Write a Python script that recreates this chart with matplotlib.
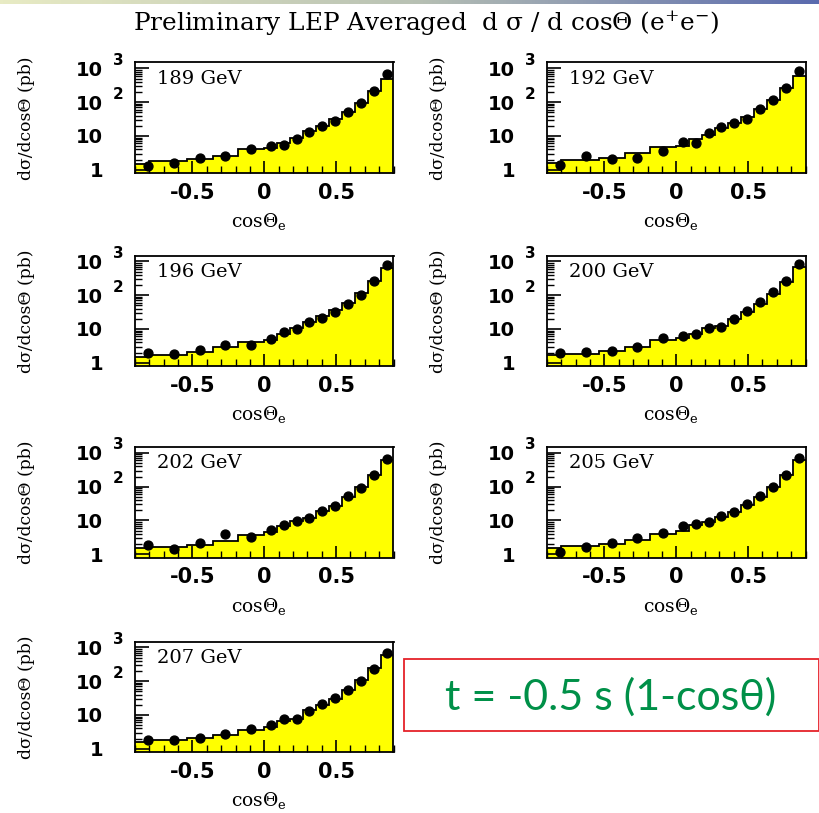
import matplotlib
matplotlib.use("Agg")
import matplotlib.pyplot as plt
import matplotlib.transforms as mtransforms
from matplotlib.ticker import FixedLocator, MultipleLocator, NullFormatter
from matplotlib.patches import Rectangle
from matplotlib.colors import LinearSegmentedColormap
import numpy as np

plt.rcParams['mathtext.fontset'] = 'dejavuserif'

# ---------------- data ----------------
energies = ["189 GeV", "192 GeV", "196 GeV", "200 GeV", "202 GeV", "205 GeV", "207 GeV"]

data_edges = [-0.9, -0.72, -0.54, -0.36, -0.18, 0.0, 0.09, 0.18, 0.27, 0.36,
              0.45, 0.54, 0.63, 0.72, 0.81, 0.9]
hist_edges = [-0.9, -0.8, -0.54, -0.36, -0.18, 0.0, 0.09, 0.18, 0.27, 0.36,
              0.45, 0.54, 0.63, 0.72, 0.81, 0.9]

data_189 = [1.29, 1.61, 2.28, 2.56, 4.2, 5.1, 5.4, 8.0, 13.3, 20, 28, 50, 92, 220, 690]
data_192 = [1.41, 2.5, 2.08, 2.23, 3.7, 6.7, 6.2, 12.4, 18.7, 24.5, 30.8, 64, 113, 258, 850]
data_196 = [1.9, 1.8, 2.4, 3.4, 3.4, 5.1, 8.4, 9.9, 16.6, 21, 32, 56, 103, 257, 810]
data_200 = [2.0, 2.1, 2.3, 3.0, 5.3, 6.2, 7.0, 11, 11.5, 19.6, 34.6, 61, 122, 270, 850]
data_202 = [1.87, 1.42, 2.1, 4.0, 3.3, 5.3, 7.3, 9.4, 11.9, 19.6, 27.6, 52, 93, 215, 676]
data_205 = [1.17, 1.65, 2.2, 3.06, 4.3, 7.0, 7.8, 9.1, 13.5, 18.1, 30.7, 54, 101, 226, 705]
data_207 = [1.85, 1.85, 2.1, 2.8, 3.8, 5.2, 7.8, 7.8, 13.2, 21.8, 32, 55, 103, 230, 670]

pred_189 = [1.45, 1.8, 2.1, 2.56, 4.0, 4.5, 6.4, 8.6, 14, 20, 31, 50, 98, 220, 490]
pred_192 = [1.6, 2.0, 2.3, 3.1, 4.6, 5.1, 8.0, 10.5, 17, 25, 36, 62, 120, 270, 580]
pred_196 = [1.45, 1.7, 2.1, 2.9, 4.2, 4.7, 7.1, 10.6, 16.6, 24.5, 37, 59, 117, 257, 640]
pred_200 = [1.66, 1.78, 2.2, 3.0, 4.6, 5.3, 7.0, 11, 12.3, 19.6, 32, 55, 108, 240, 680]
pred_202 = [1.5, 1.66, 1.87, 2.4, 3.8, 4.6, 7.0, 9.4, 11.9, 18.7, 27.6, 49, 97, 215, 600]
pred_205 = [1.48, 1.73, 2.0, 2.6, 3.9, 4.8, 7.3, 9.1, 12.9, 18, 28.7, 51, 101, 226, 630]
pred_207 = [1.58, 1.78, 2.08, 2.6, 3.5, 4.4, 6.5, 7.5, 13.9, 19.5, 30.7, 55, 108, 250, 600]

all_data = [data_189, data_192, data_196, data_200, data_202, data_205, data_207]
all_pred = [pred_189, pred_192, pred_196, pred_200, pred_202, pred_205, pred_207]

xtick_vals = [-0.5, 0, 0.5]
xtick_labels = ["-0.5", "0", "0.5"]
ytick_vals = [1, 10, 100, 1000]
ytick_labels = ["1", "10", "10", "10"]
ytick_exps = ["", "", "2", "3"]

title = "Preliminary LEP Averaged  d σ / d cosΘ (e$^{+}$e$^{-}$)"
ylabel = "dσ/dcosΘ (pb)"
xlabel = "cosΘ$_{\\mathrm{e}}$"
note = "t = -0.5 s (1-cosθ)"

# ---------------- layout ----------------
W, H = 820, 813
fig = plt.figure(figsize=(W / 100, H / 100), dpi=100)

col_left = [135, 547]
col_w = 258.5
row_top = [62.5, 255.5, 447, 641.5]
row_h = 110.5

centers = 0.5 * (np.array(data_edges[:-1]) + np.array(data_edges[1:]))

for i, (lab, dat, pred) in enumerate(zip(energies, all_data, all_pred)):
    r, c = divmod(i, 2)
    l = col_left[c] / W
    b = (H - row_top[r] - row_h) / H
    ax = fig.add_axes([l, b, col_w / W, row_h / H])
    ax.set_yscale('log')
    ax.stairs(pred, hist_edges, fill=True, facecolor='#FFFF00', edgecolor='none',
              baseline=0.5, zorder=1)
    ax.stairs(pred, hist_edges, baseline=None, color='black', lw=1.3, zorder=2)
    ax.plot(centers, dat, 'o', color='black', ms=6.4, zorder=3)
    ax.set_xlim(-0.9, 0.9)
    ax.set_ylim(0.8, 1500)

    for sp in ax.spines.values():
        sp.set_linewidth(1.3)

    ax.xaxis.set_major_locator(FixedLocator(xtick_vals))
    ax.xaxis.set_minor_locator(MultipleLocator(0.1))
    ax.set_xticklabels(xtick_labels, fontfamily='DejaVu Sans', fontweight='bold', fontsize=15)
    ax.yaxis.set_major_locator(FixedLocator(ytick_vals))
    ax.yaxis.set_minor_locator(FixedLocator(
        [m * 10 ** e for e in range(0, 3) for m in range(2, 10)]))
    ax.yaxis.set_minor_formatter(NullFormatter())
    ax.set_yticklabels(ytick_labels, fontfamily='DejaVu Sans', fontweight='bold', fontsize=14)

    ax.tick_params(axis='x', which='major', direction='in', length=8.5, width=1.2, pad=7)
    ax.tick_params(axis='x', which='minor', direction='in', length=5, width=1.0)
    ax.tick_params(axis='y', which='major', direction='in', length=10, width=1.2, pad=23)
    ax.tick_params(axis='y', which='minor', direction='in', length=5, width=1.0)

    trans = mtransforms.blended_transform_factory(ax.transAxes, ax.transData)
    trans = mtransforms.offset_copy(trans, fig=fig, x=0, y=8, units='dots')
    for v, e in zip(ytick_vals, ytick_exps):
        if e:
            ax.text(-0.066, v, e, transform=trans, ha='center', va='center',
                    fontfamily='DejaVu Sans', fontweight='bold', fontsize=11)

    ax.text(0.085, 0.855, lab, transform=ax.transAxes, ha='left', va='center',
            fontfamily='DejaVu Serif', fontsize=14)
    ax.text(-0.418, 0.5, ylabel, transform=ax.transAxes, rotation=90,
            ha='center', va='center', fontfamily='DejaVu Serif', fontsize=12.3)
    ax.text(0.48, -0.44, xlabel, transform=ax.transAxes, ha='center', va='center',
            fontfamily='DejaVu Serif', fontsize=13.5)

# title
fig.text(426 / W, 1 - 23 / H, title, ha='center', va='center',
         fontfamily='DejaVu Serif', fontsize=17.8)

# top gradient strip
axg = fig.add_axes([0, 1 - 4 / H, 1, 4 / H])
cmap = LinearSegmentedColormap.from_list('strip', ['#E8EBC4', '#B9C2B4', '#5A6AAE'])
axg.imshow(np.linspace(0, 1, 256)[None, :], aspect='auto', cmap=cmap)
axg.set_axis_off()

# note box
fig.patches.append(Rectangle((404 / W, (H - 731) / H), 415 / W, 72 / H,
                             transform=fig.transFigure, fill=False,
                             edgecolor='#E52229', lw=1.3))
fig.text(611 / W, 1 - 697 / H, note, ha='center', va='center', color='#009048',
         fontfamily='Lato', fontsize=31)

fig.savefig('out.png', dpi=100)
